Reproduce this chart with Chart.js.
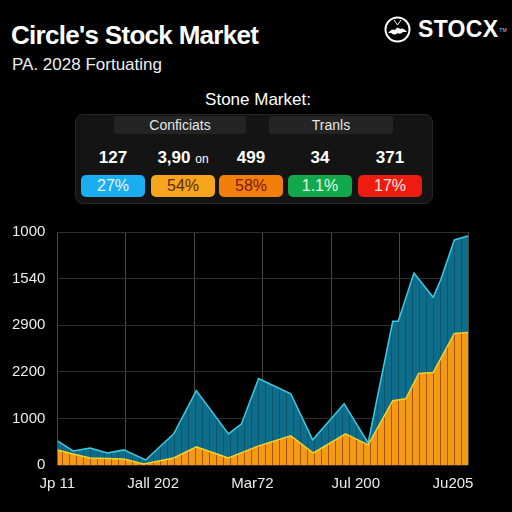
<!DOCTYPE html>
<html>
<head>
<meta charset="utf-8">
<script src="https://cdn.jsdelivr.net/npm/chart.js@4.4.0/dist/chart.umd.min.js"></script>
<style>
  html, body { margin:0; padding:0; background:#000; width:512px; height:512px; overflow:hidden; font-family:"Liberation Sans", Arial, sans-serif; color:#fff; }
  .title { position:absolute; left:11px; top:20px; font-size:26px; font-weight:bold; letter-spacing:-0.7px; }
  .subtitle { position:absolute; left:12px; top:55px; font-size:17px; color:#eee; }
  .logo { position:absolute; left:384px; top:16px; display:flex; align-items:center; }
  .logo span { font-size:23px; font-weight:bold; margin-left:7px; letter-spacing:0.3px; }
  .logo sup { font-size:5px; margin-left:1px; vertical-align:top; color:#ccc; }
  .panel-title { position:absolute; left:0; width:516px; top:90px; text-align:center; font-size:17px; }
  .panel { position:absolute; left:75px; top:114px; width:358px; height:90px; background:#141414; border:1px solid #262626; border-radius:8px; box-sizing:border-box; }
  .hcell { position:absolute; top:1px; height:18px; background:#242424; border-radius:3px; text-align:center; font-size:14px; line-height:18px; color:#e6e6e6; }
  .num { position:absolute; top:33px; width:80px; margin-left:-40px; text-align:center; font-size:17px; font-weight:bold; line-height:20px; }
  .num small { font-size:12px; font-weight:normal; }
  .badge { position:absolute; top:60px; width:64px; height:22px; margin-left:-32px; border-radius:5px; text-align:center; line-height:22px; font-size:16px; }
  #wrap { position:absolute; left:0; top:211px; width:484px; height:292px; }
</style>
</head>
<body>
<div class="title">Circle's Stock Market</div>
<div class="subtitle">PA. 2028 Fortuating</div>
<div class="logo">
  <svg width="27" height="27" viewBox="0 0 27 27">
    <circle cx="13.5" cy="13.5" r="12" fill="none" stroke="#fff" stroke-width="2"/>
    <path d="M10 4 L13.5 9 L17 4" fill="none" stroke="#fff" stroke-width="1"/>
    <path d="M4 17 Q8 12 11 14 Q13.5 10 16 13 Q19 11 23 16 L19 16 Q16 19 13.5 17 Q11 20 7 17 Z" fill="#fff"/>
  </svg>
  <span>STOCX</span><sup>TM</sup>
</div>

<div class="panel-title">Stone Market:</div>
<div class="panel" id="panel"></div>

<div id="wrap"><canvas id="chart"></canvas></div>

<script>
// header cells + table
const headerLabels = ['Conficiats', 'Tranls'];
const tableNumbers = ['127', '3,90', '499', '34', '371'];
const numberSuffix = ['', 'on', '', '', ''];
const badgeLabels = ['27%', '54%', '58%', '1.1%', '17%'];

// chart data
const yTickLabels = ['0', '1000', '2200', '2900', '1540', '1000'];
const xTickLabels = ['Jp 11', 'Jall 202', 'Mar72', 'Jul 200', 'Ju205'];
const xTickPos = [0, 14, 28.5, 43.6, 57.8];

const topX = [0, 2.3, 4.8, 7.3, 9.7, 12.9, 17, 20.3, 25, 26.9, 29.4, 34.1, 37.3, 41.9, 45.4, 49, 49.8, 52.1, 54.9, 56, 58, 60];
const topValues = [259, 151, 183, 129, 162, 54, 334, 798, 334, 442, 927, 765, 270, 658, 237, 1542, 1542, 2059, 1800, 1984, 2415, 2458];
const baseX = [0, 2.3, 4.8, 9.7, 12.6, 17, 20.3, 25, 29.4, 34.1, 37.4, 42.1, 45.4, 49, 50.9, 52.8, 54.9, 58, 60];
const baseValues = [162, 119, 75, 65, 10, 75, 194, 75, 205, 313, 129, 334, 216, 690, 711, 981, 992, 1412, 1423];

// build the panel
const panel = document.getElementById('panel');
const hcellPos = [[38, 132], [193, 124]];
headerLabels.forEach((h, i) => {
  const d = document.createElement('div');
  d.className = 'hcell';
  d.style.left = hcellPos[i][0] + 'px';
  d.style.width = hcellPos[i][1] + 'px';
  d.textContent = h;
  panel.appendChild(d);
});
const colCenters = [37, 107, 175, 244, 314];
const badgeStyles = [
  ['#1aaef0', '#e6f7ff'],
  ['#f7a51c', '#5a2a00'],
  ['#f27f0c', '#7a1a00'],
  ['#14a84c', '#dcffe6'],
  ['#ee1c0e', '#ffe6e6']
];
tableNumbers.forEach((n, i) => {
  const d = document.createElement('div');
  d.className = 'num';
  d.style.left = colCenters[i] + 'px';
  d.innerHTML = n + (numberSuffix[i] ? ' <small>' + numberSuffix[i] + '</small>' : '');
  panel.appendChild(d);

  const b = document.createElement('div');
  b.className = 'badge';
  b.style.left = colCenters[i] + 'px';
  b.style.background = badgeStyles[i][0];
  b.style.color = badgeStyles[i][1];
  b.textContent = badgeLabels[i];
  panel.appendChild(b);
});

// striped fills
const ctx = document.getElementById('chart').getContext('2d');
function stripes(base, line) {
  const c = document.createElement('canvas');
  c.width = 7; c.height = 4;
  const g = c.getContext('2d');
  g.fillStyle = base; g.fillRect(0, 0, 7, 4);
  g.fillStyle = line; g.fillRect(6, 0, 1, 4);
  return ctx.createPattern(c, 'repeat');
}

new Chart(ctx, {
  type: 'line',
  data: {
    datasets: [
      {
        label: 'base',
        data: baseX.map((x, i) => ({ x, y: baseValues[i] })),
        borderColor: '#f2d22a',
        borderWidth: 1.5,
        backgroundColor: stripes('#f39a12', '#a5520a'),
        fill: 'origin',
        pointRadius: 0,
        tension: 0
      },
      {
        label: 'total',
        data: topX.map((x, i) => ({ x, y: topValues[i] })),
        borderColor: '#3ccbe2',
        borderWidth: 1.5,
        backgroundColor: stripes('#0f6d8c', '#0a566f'),
        fill: 'origin',
        pointRadius: 0,
        tension: 0
      }
    ]
  },
  options: {
    responsive: true,
    maintainAspectRatio: false,
    animation: false,
    layout: { padding: { left: 0, right: 0, top: 0, bottom: 0 } },
    plugins: { legend: { display: false }, tooltip: { enabled: false } },
    scales: {
      x: {
        type: 'linear', min: 0, max: 60,
        border: { display: false },
        grid: { color: '#4a4a4a', drawTicks: false },
        ticks: { display: false, stepSize: 10 }
      },
      x2: {
        type: 'linear', position: 'bottom', min: 0, max: 60,
        border: { display: false },
        grid: { display: false, drawTicks: false },
        afterBuildTicks: (axis) => { axis.ticks = xTickPos.map(v => ({ value: v })); },
        ticks: {
          autoSkip: false, maxRotation: 0, padding: 10,
          color: '#ececec', font: { family: 'Liberation Sans', size: 15 },
          callback: (v, i) => xTickLabels[i]
        }
      },
      y: {
        min: 0, max: 2500,
        border: { display: false },
        grid: { color: '#2e2e2e', drawTicks: false },
        ticks: {
          stepSize: 500, padding: 12,
          color: '#ececec', font: { family: 'Liberation Sans', size: 15 },
          callback: (v, i) => yTickLabels[i]
        }
      }
    }
  }
});
</script>
</body>
</html>
